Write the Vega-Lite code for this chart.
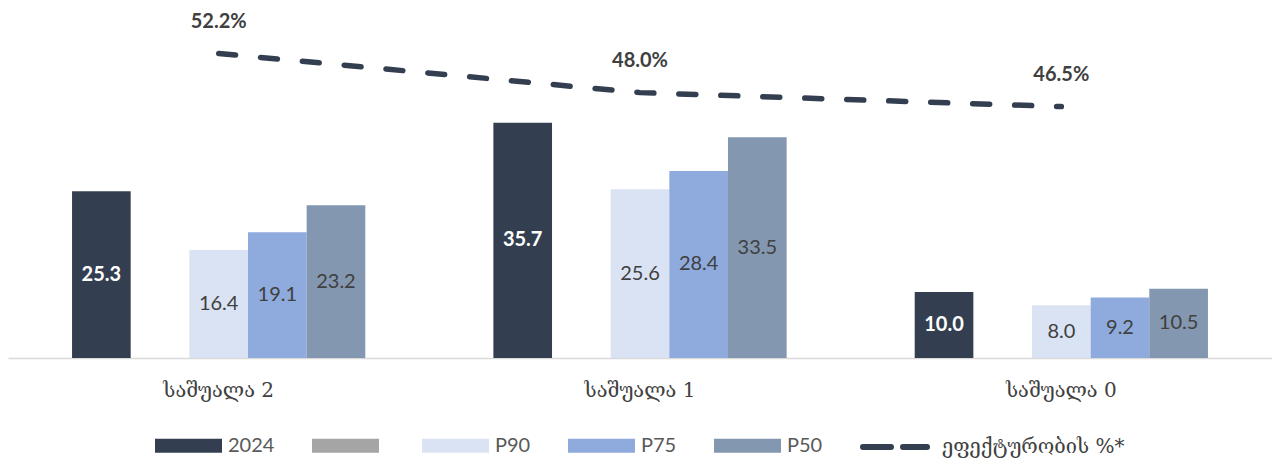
{
  "$schema": "https://vega.github.io/schema/vega-lite/v6.json",
  "width": 1264,
  "height": 338,
  "autosize": {"type": "none"},
  "padding": {"left": 8, "top": 20, "right": 0, "bottom": 104},
  "background": "white",
  "config": {"view": {"stroke": null}, "font": "Lato"},
  "datasets": {
    "bars": [
      {"group": "საშუალა 2", "series": "2024", "value": 25.3},
      {"group": "საშუალა 2", "series": "P90", "value": 16.4},
      {"group": "საშუალა 2", "series": "P75", "value": 19.1},
      {"group": "საშუალა 2", "series": "P50", "value": 23.2},
      {"group": "საშუალა 1", "series": "2024", "value": 35.7},
      {"group": "საშუალა 1", "series": "P90", "value": 25.6},
      {"group": "საშუალა 1", "series": "P75", "value": 28.4},
      {"group": "საშუალა 1", "series": "P50", "value": 33.5},
      {"group": "საშუალა 0", "series": "2024", "value": 10.0},
      {"group": "საშუალა 0", "series": "P90", "value": 8.0},
      {"group": "საშუალა 0", "series": "P75", "value": 9.2},
      {"group": "საშუალა 0", "series": "P50", "value": 10.5}
    ],
    "eff": [
      {"group": "საშუალა 2", "measure": "ეფექტურობის %*", "eff": 0.522},
      {"group": "საშუალა 1", "measure": "ეფექტურობის %*", "eff": 0.480},
      {"group": "საშუალა 0", "measure": "ეფექტურობის %*", "eff": 0.465}
    ]
  },
  "encoding": {
    "x": {
      "field": "group",
      "type": "nominal",
      "sort": ["საშუალა 2", "საშუალა 1", "საშუალა 0"],
      "scale": {"paddingInner": 0.304, "paddingOuter": 0.152},
      "axis": {
        "title": null,
        "labelAngle": 0,
        "labelFont": "DejaVu Serif",
        "labelFontSize": 20,
        "labelColor": "#404040",
        "domainColor": "#d9d9d9",
        "domainWidth": 1.5,
        "ticks": false,
        "labelPadding": 22
      }
    }
  },
  "layer": [
    {
      "data": {"name": "bars"},
      "mark": {"type": "bar"},
      "encoding": {
        "xOffset": {"field": "series", "type": "nominal", "scale": {"domain": ["2024", " ", "P90", "P75", "P50"], "paddingInner": 0, "paddingOuter": 0}},
        "y": {"field": "value", "type": "quantitative", "scale": {"domain": [0, 51.3]}, "axis": null},
        "color": {
          "field": "series",
          "type": "nominal",
          "scale": {"domain": ["2024", " ", "P90", "P75", "P50"], "range": ["#333f50", "#a5a5a5", "#dae3f3", "#8faadc", "#8497b0"]},
          "legend": {
            "orient": "none",
            "legendX": 147,
            "legendY": 392,
            "direction": "horizontal",
            "title": null,
            "symbolType": "M-1,-0.21L1,-0.21L1,0.21L-1,0.21Z",
            "symbolSize": 4489,
            "symbolStrokeWidth": 0,
            "symbolOpacity": 1,
            "labelFont": "Lato",
            "labelFontSize": 20,
            "labelColor": "#595959",
            "labelOffset": 6,
            "labelLimit": 300,
            "columnPadding": 37
          }
        }
      }
    },
    {
      "data": {"name": "bars"},
      "transform": [{"filter": "datum.series === '2024'"}],
      "mark": {"type": "text", "baseline": "middle", "fontWeight": "bold", "fontSize": 20, "color": "white"},
      "encoding": {
        "xOffset": {"field": "series", "type": "nominal", "scale": {"domain": ["2024", " ", "P90", "P75", "P50"], "paddingInner": 0, "paddingOuter": 0}},
        "y": {"field": "value", "type": "quantitative", "scale": {"domain": [0, 102.6]}, "axis": null},
        "text": {"field": "value", "type": "quantitative", "format": ".1f"}
      }
    },
    {
      "data": {"name": "bars"},
      "transform": [{"filter": "datum.series !== '2024'"}],
      "mark": {"type": "text", "baseline": "middle", "fontSize": 20, "color": "#404040"},
      "encoding": {
        "xOffset": {"field": "series", "type": "nominal", "scale": {"domain": ["2024", " ", "P90", "P75", "P50"], "paddingInner": 0, "paddingOuter": 0}},
        "y": {"field": "value", "type": "quantitative", "scale": {"domain": [0, 102.6]}, "axis": null},
        "text": {"field": "value", "type": "quantitative", "format": ".1f"}
      }
    },
    {
      "data": {"name": "eff"},
      "mark": {"type": "line", "strokeWidth": 5.5, "strokeDash": [17, 25], "strokeCap": "round"},
      "encoding": {
        "y": {"field": "eff", "type": "quantitative", "scale": {"domain": [0.195, 0.558]}, "axis": null},
        "stroke": {
          "field": "measure",
          "type": "nominal",
          "scale": {"range": ["#333f50"]},
          "legend": {
            "orient": "none",
            "legendX": 852,
            "legendY": 392,
            "title": null,
            "symbolType": "M-1,0L1,0",
            "symbolSize": 4096,
            "symbolStrokeWidth": 6,
            "symbolDash": [28, 12],
            "symbolStrokeColor": "#333f50",
            "labelFont": "DejaVu Serif",
            "labelFontSize": 20,
            "labelColor": "#404040",
            "labelOffset": 12,
            "labelLimit": 400,
            "encode": {"symbols": {"update": {"strokeCap": {"value": "round"}}}}
          }
        }
      }
    },
    {
      "data": {"name": "eff"},
      "mark": {"type": "text", "baseline": "middle", "dy": -32, "fontWeight": "bold", "fontSize": 20, "color": "#404040"},
      "encoding": {
        "y": {"field": "eff", "type": "quantitative", "scale": {"domain": [0.195, 0.558]}, "axis": null},
        "text": {"field": "eff", "type": "quantitative", "format": ".1%"}
      }
    }
  ],
  "resolve": {"scale": {"y": "independent"}}
}
